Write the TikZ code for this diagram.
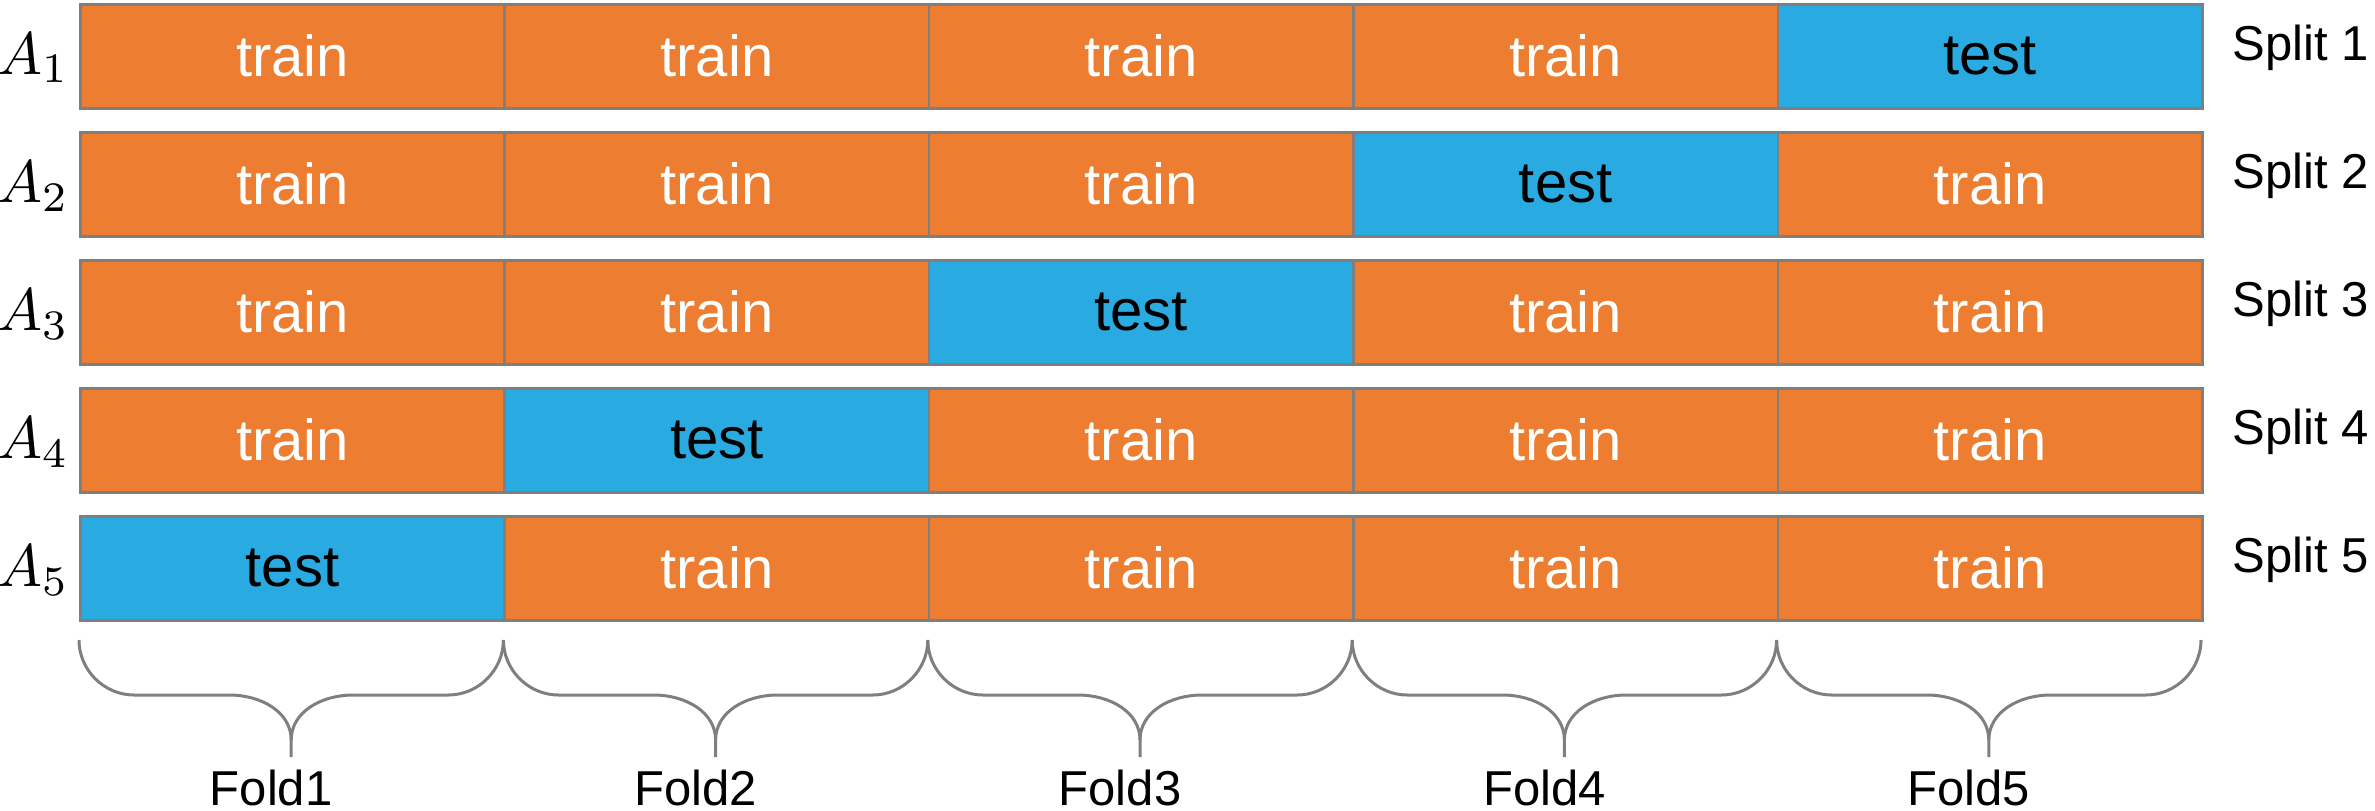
\documentclass[tikz,border=0pt]{standalone}
\usepackage{fontspec}
\setmainfont{Liberation Sans}
\definecolor{trainc}{HTML}{ED7D31}
\definecolor{testc}{HTML}{29ABE2}
\definecolor{edgec}{HTML}{7F7F7F}
\begin{document}
\begin{tikzpicture}[x=1pt,y=-1pt,
  cell/.style={draw=edgec, line width=2.5pt, minimum width=424.4pt, minimum height=104pt, inner sep=0pt, anchor=north west, font=\fontsize{58}{60}\selectfont},
  traincell/.style={cell, fill=trainc, text=white},
  testcell/.style={cell, fill=testc, text=black},
  alabel/.style={anchor=base, inner sep=0pt},
  splitlabel/.style={anchor=base, inner sep=0pt, font=\fontsize{49}{51}\selectfont},
  foldlabel/.style={anchor=base, inner sep=0pt, font=\fontsize{49}{51}\selectfont},
  bracestyle/.style={draw=edgec, line width=3pt}]
\useasboundingbox (0,0) rectangle (2375,811);
\foreach \r in {1,...,5}{
  \pgfmathsetmacro\yy{3+128*(\r-1)}
  \pgfmathsetmacro\yc{\yy+52}
  \foreach \c in {1,...,5}{
    \pgfmathsetmacro\xx{79+424.4*(\c-1)}
    \ifnum\numexpr\c+\r\relax=6
      \node[testcell] (c\r\c) at (\xx,\yy) {test};
    \else
      \node[traincell] (c\r\c) at (\xx,\yy) {train};
    \fi
  }
  \node[alabel] (a\r) at (33,\yc+19) {\scalebox{6}{$A_{\r}$}};
  \node[splitlabel] (s\r) at (2301,\yc+5) {Split \r};
}
\foreach \c in {1,...,5}{
  \pgfmathsetmacro\xa{79+424.4*(\c-1)}
  \pgfmathsetmacro\xb{\xa+424.4}
  \pgfmathsetmacro\xm{\xa+212.2}
  \coordinate (bl\c) at (\xa,640);
  \coordinate (br\c) at (\xb,640);
  \coordinate (tip\c) at (\xm,757);
  \node[foldlabel] (fold\c) at (\xm-20,805) {Fold\c};
  \draw[bracestyle] (bl\c) .. controls (\xa,670) and (\xa+25,695) .. (\xa+55,695)
     -- (\xm-62,695) .. controls (\xm-30,695) and (\xm,712) .. (\xm,740) -- (tip\c);
  \draw[bracestyle] (br\c) .. controls (\xb,670) and (\xb-25,695) .. (\xb-55,695)
     -- (\xm+62,695) .. controls (\xm+30,695) and (\xm,712) .. (\xm,740);
}
\end{tikzpicture}
\end{document}
